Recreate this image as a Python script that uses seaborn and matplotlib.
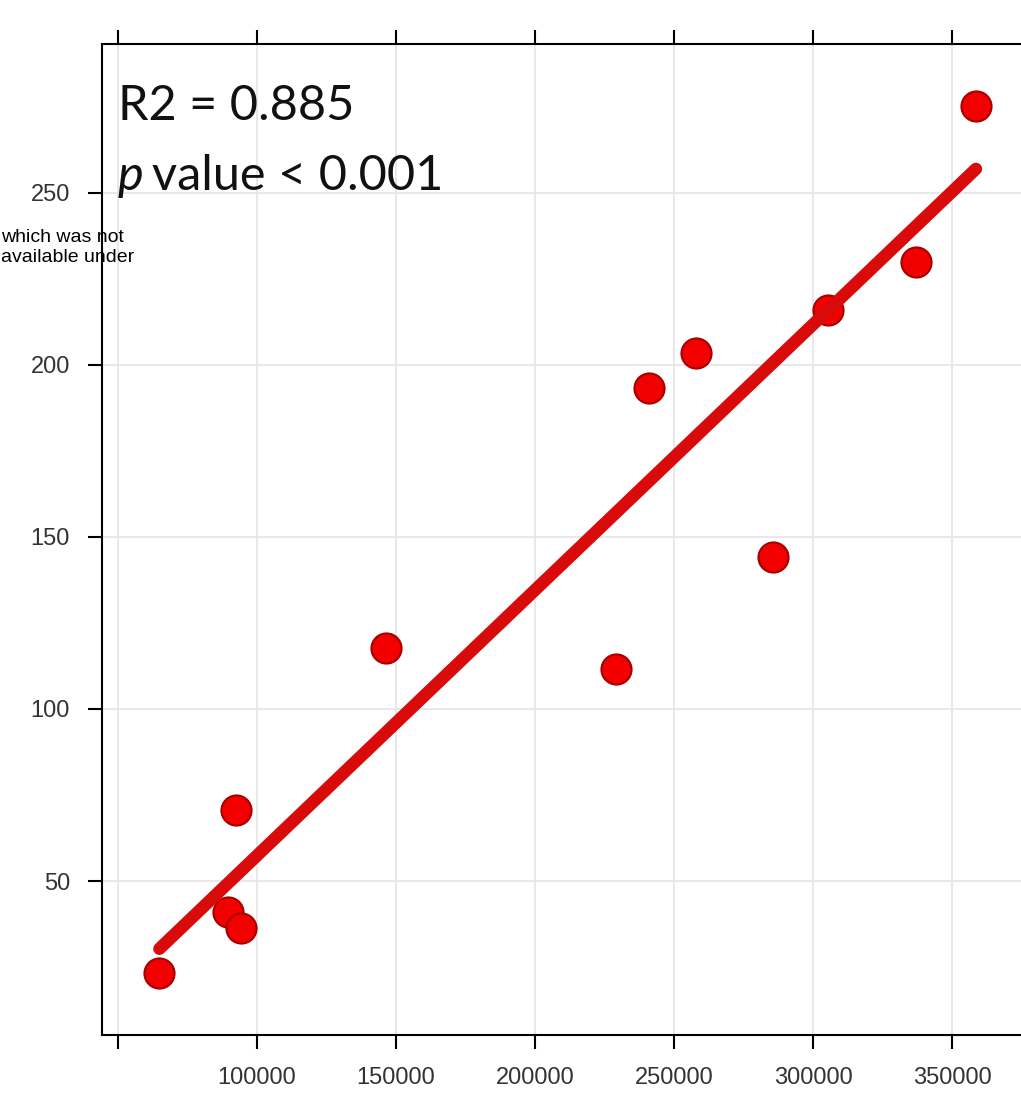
import numpy as np
import pandas as pd
import seaborn as sns
import matplotlib.pyplot as plt

# ---- data ----
x_values = [64900, 92450, 89600, 94200, 146400, 229100, 241000, 257900, 285600, 305400, 337000, 358600]
y_values = [23.2, 70.6, 41.0, 36.3, 117.7, 111.6, 193.3, 203.5, 144.2, 216.0, 229.9, 275.3]
# fitted regression line, end points
fit_x = [64900, 358600]
fit_y = [30.3, 257.0]
x_ticks = [50000, 100000, 150000, 200000, 250000, 300000, 350000]
x_tick_labels = ["", "100000", "150000", "200000", "250000", "300000", "350000"]
y_ticks = [50, 100, 150, 200, 250]
y_tick_labels = ["50", "100", "150", "200", "250"]

df = pd.DataFrame({"x": x_values, "y": y_values})
fit_df = pd.DataFrame({"x": fit_x, "y": fit_y})

sns.set_theme(style="white")
plt.rcParams['font.family'] = ['Liberation Sans', 'DejaVu Sans']

W, H = 1021, 1093
fig = plt.figure(figsize=(W / 100, H / 100), dpi=100)
left_px, right_px, top_px, bottom_px = 102, 1060, 44, 1035
ax = fig.add_axes([left_px / W, 1 - bottom_px / H, (right_px - left_px) / W, (bottom_px - top_px) / H])

ax.grid(True, color='#e6e6e6', linewidth=1.3)
ax.set_axisbelow(True)

sns.scatterplot(data=df, x="x", y="y", ax=ax, s=470, color='#f20000',
                edgecolor='#a80000', linewidth=1.5, zorder=3, legend=False)
sns.lineplot(data=fit_df, x="x", y="y", ax=ax, color='#d80a0a', linewidth=9,
             solid_capstyle='round', zorder=4, legend=False)

px_per_unit_x = (952 - 118) / 300000
ax.set_xlim(50000 - (118 - left_px) / px_per_unit_x, 50000 + (right_px - 118) / px_per_unit_x)
px_per_unit_y = (881 - 193) / 200
ax.set_ylim(50 - (bottom_px - 881) / px_per_unit_y, 250 + (193 - top_px) / px_per_unit_y)

ax.set_xticks(x_ticks)
ax.set_xticklabels(x_tick_labels)
ax.set_yticks(y_ticks)
ax.set_yticklabels(y_tick_labels)
ax.set_xlabel("")
ax.set_ylabel("")

ax.tick_params(axis='x', top=True, bottom=True, labeltop=False, direction='out',
               length=10, width=1.5, color='black', pad=13, labelsize=17, labelcolor='#333333')
ax.tick_params(axis='y', left=True, right=False, direction='out',
               length=10, width=1.5, color='black', pad=13, labelsize=17, labelcolor='#333333')
for s in ax.spines.values():
    s.set_color('black')
    s.set_linewidth(1.5)

# annotation text
fig.text(118 / W, 1 - 120 / H, "R2 = 0.885", fontsize=35, family=['Lato', 'DejaVu Sans'],
         color='#111111', va='baseline', ha='left')
fig.text(118 / W, 1 - 190 / H, "p", fontsize=35, family=['Lato', 'DejaVu Sans'], style='italic',
         color='#111111', va='baseline', ha='left')
fig.text(152 / W, 1 - 190 / H, "value < 0.001", fontsize=35, family=['Lato', 'DejaVu Sans'],
         color='#111111', va='baseline', ha='left')

# overlapping fragment text at left edge
fig.text(1 / W, 1 - 242 / H, "which was not", fontsize=14, color='black', va='baseline', ha='left')
fig.text(1 / W, 1 - 262 / H, "available under", fontsize=14, color='black', va='baseline', ha='left')

fig.savefig("out.png", dpi=100)
